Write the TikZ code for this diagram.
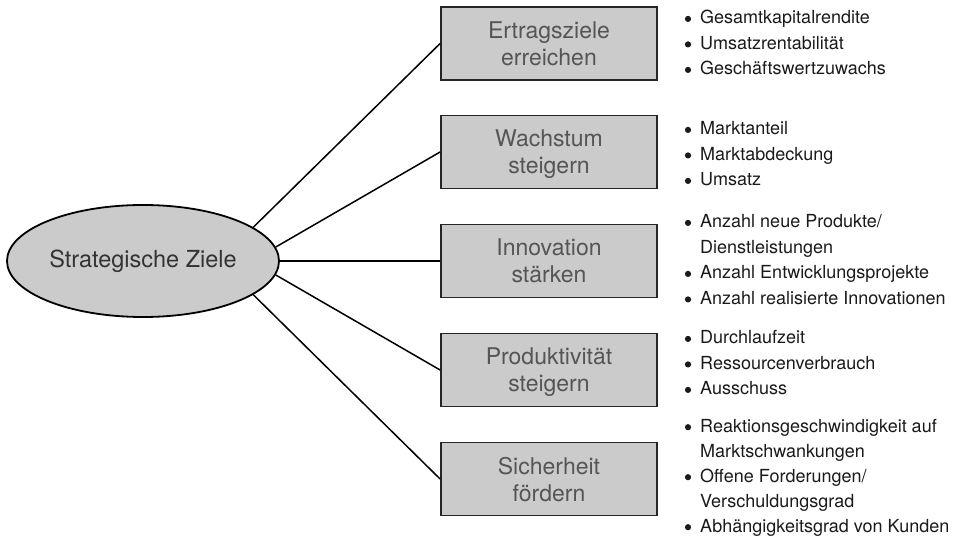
\documentclass[tikz,border=0pt]{standalone}
\usepackage{fontspec}
\setmainfont{TeX Gyre Heros}
\usetikzlibrary{shapes.geometric}
\definecolor{boxfill}{HTML}{CBCBCB}
\definecolor{boxtext}{HTML}{555555}
\definecolor{elltext}{HTML}{333333}
\definecolor{itemtext}{HTML}{1A1A1A}
\begin{document}
\begin{tikzpicture}[x=1pt,y=-1pt,
  goal/.style={draw=black!85, line width=1.8pt, fill=boxfill, minimum width=216pt,
    minimum height=73pt, inner sep=0pt, align=center, text=boxtext,
    font=\fontsize{23}{27}\selectfont, text depth=0pt},
  root/.style={ellipse, draw=black, line width=1.8pt, fill=boxfill, minimum width=272pt,
    minimum height=112pt, inner sep=0pt, text=elltext, font=\fontsize{23.5}{27}\selectfont},
  item/.style={anchor=base west, inner sep=0pt, text=itemtext, font=\fontsize{18}{22}\selectfont},
  link/.style={line width=1.5pt, draw=black},
  dot/.style={fill=itemtext}]
\useasboundingbox (0,0) rectangle (961,537);

\node[root] (e) at (143,261) {Strategische Ziele};

\node[goal] (b1) at (549,43.5) {Ertragsziele\\erreichen};
\node[goal] (b2) at (549,152) {Wachstum\\steigern};
\node[goal] (b3) at (549,261) {Innovation\\stärken};
\node[goal] (b4) at (549,370) {Produktivität\\steigern};
\node[goal] (b5) at (549,479) {Sicherheit\\fördern};

\draw[link] (e.17) -- (b1.west);
\draw[link] (e.6) -- (b2.west);
\draw[link] (e.0) -- (b3.west);
\draw[link] (e.-6) -- (b4.west);
\draw[link] (e.-17) -- (b5.west);

\node[item] (i11) at (700,23.7) {Gesamtkapitalrendite};
\node[item] (i12) at (700,49.2) {Umsatzrentabilität};
\node[item] (i13) at (700,74.7) {Geschäftswertzuwachs};

\node[item] (i21) at (700,134.7) {Marktanteil};
\node[item] (i22) at (700,160.2) {Marktabdeckung};
\node[item] (i23) at (700,185.7) {Umsatz};

\node[item] (i31) at (700,227.7) {Anzahl neue Produkte/};
\node[item] (i32) at (700,253.2) {Dienstleistungen};
\node[item] (i33) at (700,278.7) {Anzahl Entwicklungsprojekte};
\node[item] (i34) at (700,304.2) {Anzahl realisierte Innovationen};

\node[item] (i41) at (700,343.7) {Durchlaufzeit};
\node[item] (i42) at (700,369.2) {Ressourcenverbrauch};
\node[item] (i43) at (700,394.7) {Ausschuss};

\node[item] (i51) at (700,432) {Reaktionsgeschwindigkeit auf};
\node[item] (i52) at (700,457) {Marktschwankungen};
\node[item] (i53) at (700,482) {Offene Forderungen/};
\node[item] (i54) at (700,507) {Verschuldungsgrad};
\node[item] (i55) at (700,532) {Abhängigkeitsgrad von Kunden};

\foreach \n in {i11,i12,i13,i21,i22,i23,i31,i33,i34,i41,i42,i43,i51,i53,i55}
  \fill[dot] ([xshift=-12pt,yshift=4.8pt]\n.base west) circle (3.1pt);
\end{tikzpicture}
\end{document}
